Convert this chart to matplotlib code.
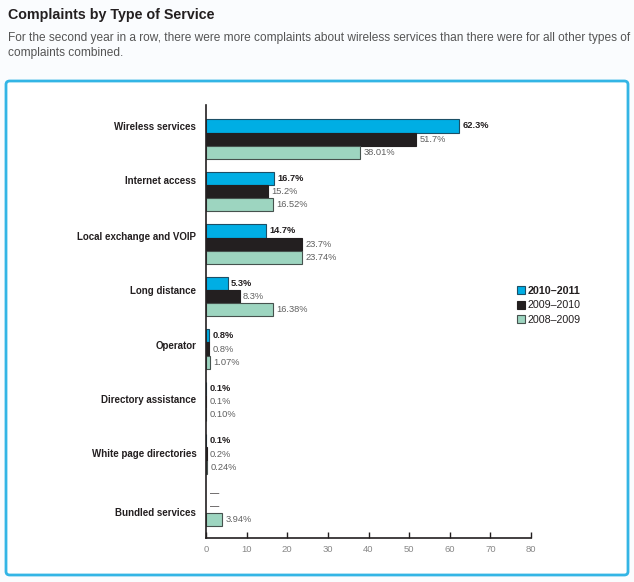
import matplotlib
matplotlib.use('Agg')
import matplotlib.pyplot as plt
from matplotlib.patches import FancyBboxPatch, Patch

categories = ['Wireless services', 'Internet access', 'Local exchange and VOIP', 'Long distance',
              'Operator', 'Directory assistance', 'White page directories', 'Bundled services']
y2011 = [62.3, 16.7, 14.7, 5.3, 0.8, 0.1, 0.1, None]
y2010 = [51.7, 15.2, 23.7, 8.3, 0.8, 0.1, 0.2, None]
y2009 = [38.01, 16.52, 23.74, 16.38, 1.07, 0.10, 0.24, 3.94]
lab2011 = ['62.3%', '16.7%', '14.7%', '5.3%', '0.8%', '0.1%', '0.1%', '—']
lab2010 = ['51.7%', '15.2%', '23.7%', '8.3%', '0.8%', '0.1%', '0.2%', '—']
lab2009 = ['38.01%', '16.52%', '23.74%', '16.38%', '1.07%', '0.10%', '0.24%', '3.94%']
series_names = ['2010–2011', '2009–2010', '2008–2009']

BLUE = '#00aee4'
BLACK = '#231f20'
GREEN = '#9dd5c0'
DARK = '#231f20'
GRAY = '#606060'

plt.rcParams['font.family'] = ['Liberation Sans', 'DejaVu Sans']

fig = plt.figure(figsize=(6.34, 5.82), dpi=100)
fig.patch.set_facecolor('#fafcfe')

# outer blue box
box = FancyBboxPatch((6 / 634, 1 - 575 / 582), 622 / 634, 494 / 582,
                     boxstyle='round,pad=0,rounding_size=0.006',
                     transform=fig.transFigure, facecolor='white',
                     edgecolor='#33b5e5', linewidth=2, zorder=-1)
fig.patches.append(box)

fig.text(8 / 634, 1 - 15 / 582, 'Complaints by Type of Service', fontsize=10.3,
         fontweight='bold', color=DARK, va='center', ha='left')
fig.text(8 / 634, 1 - 38 / 582,
         'For the second year in a row, there were more complaints about wireless services than there were for all other types of',
         fontsize=8.55, color='#555555', va='center', ha='left')
fig.text(8 / 634, 1 - 53 / 582, 'complaints combined.', fontsize=8.55, color='#555555',
         va='center', ha='left')

ax = fig.add_axes([206 / 634, 1 - 538 / 582, 325 / 634, 433 / 582])
ax.set_facecolor('none')
ax.set_zorder(2)

h = 0.248
n = len(categories)
for i in range(n):
    for off, vals, labs, col, ec, bold in [(-h, y2011, lab2011, BLUE, '#1c4f66', True),
                                           (0, y2010, lab2010, BLACK, BLACK, False),
                                           (h, y2009, lab2009, GREEN, '#46524e', False)]:
        v = vals[i]
        if v is None:
            ax.text(0.9, i + off, labs[i], fontsize=6.7, color=DARK, va='center', ha='left')
            continue
        ax.barh(i + off, v, height=h, color=col, edgecolor=ec, linewidth=0.8, zorder=2)
        ax.text(v + 0.8, i + off, labs[i], fontsize=6.7, va='center', ha='left',
                color=DARK if bold else GRAY, fontweight='bold' if bold else 'normal')

ax.set_xlim(0, 80)
ax.set_ylim(7.6, -0.648)
ax.set_xticks(range(0, 81, 10))
ax.tick_params(axis='x', direction='in', length=4, width=1, colors=BLACK,
               labelcolor='#888888', labelsize=6.8, pad=5)

label_offsets = [-0.248, -0.219, -0.152, -0.124, -0.076, -0.048, -0.019, 0.105]
ax.set_yticks([i + o for i, o in enumerate(label_offsets)])
ax.set_yticklabels(categories, fontsize=7, fontweight='bold', color=DARK)
ax.tick_params(axis='y', length=0, pad=7)

for s in ['top', 'right']:
    ax.spines[s].set_visible(False)
ax.spines['left'].set_color(BLACK)
ax.spines['bottom'].set_color(BLACK)
ax.spines['left'].set_linewidth(1.2)
ax.spines['bottom'].set_linewidth(1.2)

handles = [Patch(facecolor=BLUE, edgecolor='#1c4f66', linewidth=0.8),
           Patch(facecolor=BLACK, edgecolor=BLACK, linewidth=0.8),
           Patch(facecolor=GREEN, edgecolor='#46524e', linewidth=0.8)]
leg = fig.legend(handles, series_names, loc='upper left',
                 bbox_to_anchor=(515 / 634, 1 - 284 / 582), frameon=False,
                 fontsize=7.7, handlelength=0.75, handleheight=0.75,
                 handletextpad=0.25, labelspacing=0.4, borderaxespad=0, borderpad=0.2)
leg.get_texts()[0].set_fontweight('bold')
leg.set_zorder(3)
for t in leg.get_texts():
    t.set_color(DARK)

fig.savefig('out.png', dpi=100, facecolor=fig.get_facecolor())
